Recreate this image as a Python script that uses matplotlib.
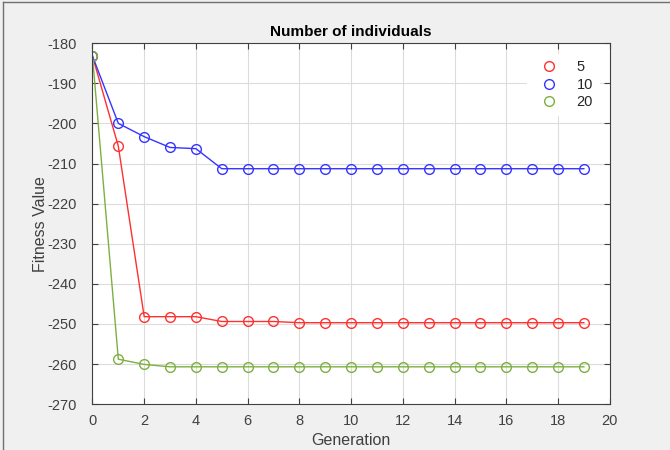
#!/usr/bin/env python3
"""Fitness value vs generation for different population sizes"""
import matplotlib.pyplot as plt
from matplotlib.lines import Line2D

plt.rcParams["font.family"] = ["Liberation Sans", "DejaVu Sans"]
plt.rcParams["axes.unicode_minus"] = False

generation = list(range(20))
fit_5 = [-183.2, -205.7, -248.2, -248.2, -248.2, -249.4, -249.4, -249.4, -249.7, -249.7,
         -249.7, -249.7, -249.7, -249.7, -249.7, -249.7, -249.7, -249.7, -249.7, -249.7]
fit_10 = [-183.2, -200.0, -203.3, -206.0, -206.3, -211.3, -211.3, -211.3, -211.3, -211.3,
          -211.3, -211.3, -211.3, -211.3, -211.3, -211.3, -211.3, -211.3, -211.3, -211.3]
fit_20 = [-183.2, -258.8, -260.1, -260.7, -260.7, -260.7, -260.7, -260.7, -260.7, -260.7,
          -260.7, -260.7, -260.7, -260.7, -260.7, -260.7, -260.7, -260.7, -260.7, -260.7]
labels = ["5", "10", "20"]

fig = plt.figure(figsize=(6.7, 4.5), dpi=100, facecolor="#f0f0f0")
ax = fig.add_axes([0.138, 0.102, 0.772, 0.802])

ax.plot(generation, fit_5, "o-", color="#ff3030", mfc="none", ms=7, lw=1, label=labels[0])
ax.plot(generation, fit_10, "o-", color="#3535ff", mfc="none", ms=7, lw=1, label=labels[1])
ax.plot(generation, fit_20, "o-", color="#7db040", mfc="none", ms=7, lw=1, label=labels[2])

ax.set_xlim(0, 20)
ax.set_ylim(-270, -180)
ax.set_xticks(range(0, 21, 2))
ax.set_yticks(range(-270, -179, 10))
ax.grid(True, color="#dcdcdc", lw=0.8)
ax.set_axisbelow(True)
ax.tick_params(direction="in", top=True, right=True, labelsize=10.5, colors="#404040", length=4)
ax.tick_params(axis="y", pad=11)
ax.tick_params(axis="x", pad=7)
for s in ax.spines.values():
    s.set_color("#404040")

ax.set_xlabel("Generation", fontsize=11.5, color="#404040", labelpad=4)
ax.set_ylabel("Fitness Value", fontsize=11.5, color="#404040", labelpad=0)
ax.set_title("Number of individuals", fontsize=11, fontweight="bold", pad=5)

leg = ax.legend(loc="upper right", frameon=True, fontsize=10.5, handlelength=2.2,
                borderaxespad=0.75, labelspacing=0.25, markerfirst=True)
leg.get_frame().set_edgecolor("white")
leg.get_frame().set_facecolor("white")
leg.get_frame().set_alpha(1)
for h in leg.legend_handles:
    h.set_linestyle("none")
for t in leg.get_texts():
    t.set_color("#262626")

# thin screenshot border at the top and left edge
fig.add_artist(Line2D([0.005, 1], [0.996, 0.996], transform=fig.transFigure, color="#707070", lw=1))
fig.add_artist(Line2D([0.005, 0.005], [0, 0.996], transform=fig.transFigure, color="#707070", lw=1))

plt.savefig("out.png", dpi=100, facecolor=fig.get_facecolor())
